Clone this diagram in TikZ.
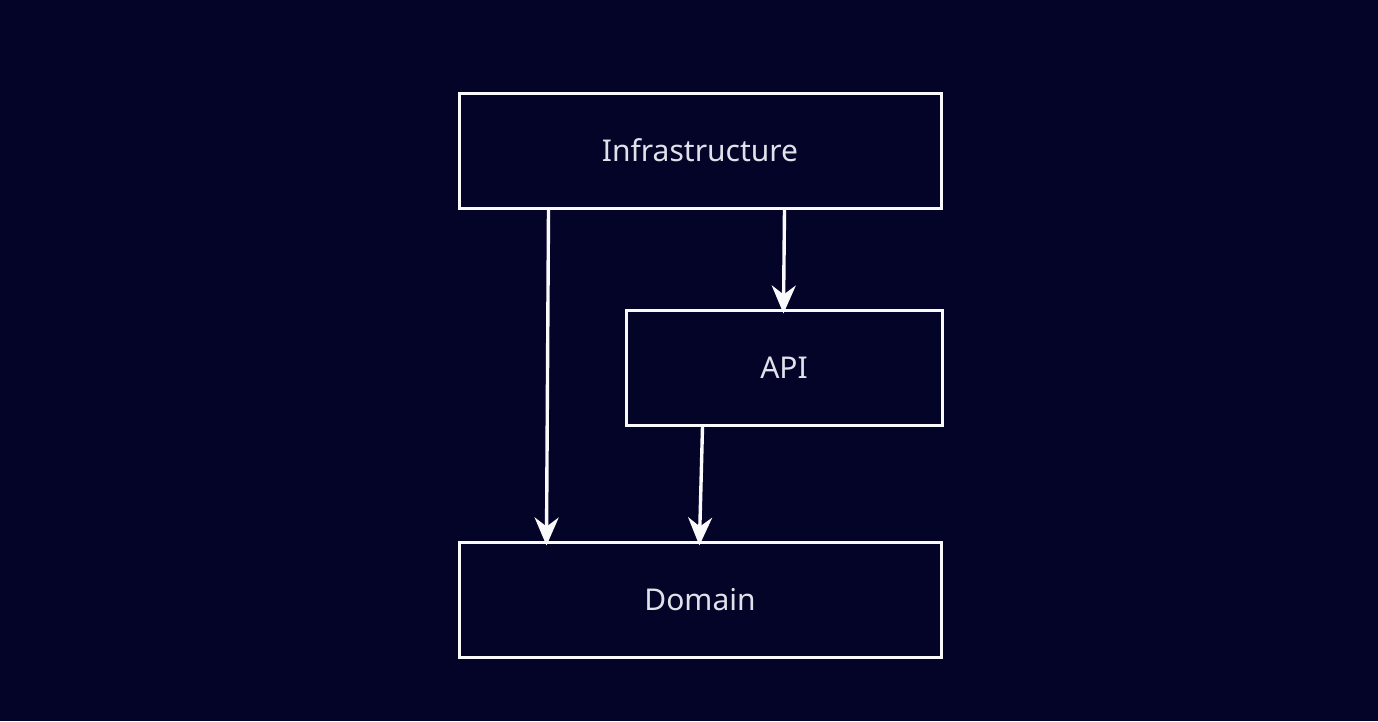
\documentclass[tikz,border=0pt]{standalone}
\usepackage{fontspec}
\setmainfont{Noto Sans}
\usetikzlibrary{arrows.meta}
\definecolor{bg}{RGB}{4,4,40}
\definecolor{fg}{RGB}{250,250,252}
\definecolor{txt}{RGB}{225,225,235}
\begin{document}
\begin{tikzpicture}[x=1pt,y=-1pt,
  box/.style={draw=fg,line width=3pt,minimum height=115pt,inner sep=0pt,text=txt,font=\fontsize{30}{35}\selectfont},
  arr/.style={draw=fg,line width=3.4pt,shorten >=-5pt,-{Stealth[length=28pt,width=24pt,inset=9pt]}}]
\fill[bg] (0,0) rectangle (1378,721);
\useasboundingbox (0,0) rectangle (1378,721);
\node[box,minimum width=482pt] (infra) at (700,150.5) {Infrastructure};
\node[box,minimum width=316pt] (api) at (784,367.5) {API};
\node[box,minimum width=482pt] (dom) at (700,599.5) {Domain};
\draw[arr] ([xshift=91pt]infra.south west) -- ([xshift=89pt]dom.north west);
\draw[arr] ([xshift=327pt]infra.south west) -- ([xshift=159pt]api.north west);
\draw[arr] ([xshift=78pt]api.south west) -- ([xshift=242pt]dom.north west);
\end{tikzpicture}
\end{document}
